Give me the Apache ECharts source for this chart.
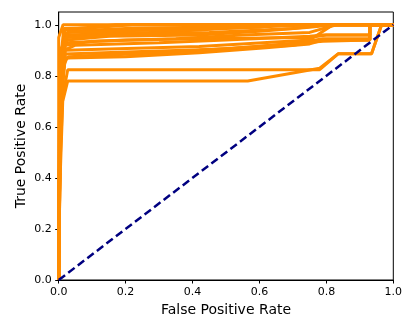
<!DOCTYPE html>
<html>
<head>
<meta charset="utf-8">
<script src="https://cdn.jsdelivr.net/npm/echarts@6/dist/echarts.min.js"></script>
<style>
  html, body { margin: 0; padding: 0; background: #fff; }
  #chart { width: 415px; height: 332px; }
</style>
</head>
<body>
<div id="chart"></div>
<script>
// ROC curves as [false positive rate, true positive rate] pairs
const roc01 = [[0, 0], [0, 0.35], [0.008, 0.7], [0.015, 0.84], [0.025, 0.87], [0.2, 0.875], [0.42, 0.89], [0.62, 0.91], [0.75, 0.925], [0.79, 0.94], [0.93, 0.94], [0.93, 1], [1, 1]];
const roc02 = [[0, 0], [0.005, 0.62], [0.012, 0.8], [0.02, 0.885], [0.25, 0.895], [0.5, 0.905], [0.72, 0.93], [0.79, 0.945], [0.93, 0.945], [0.93, 1], [1, 1]];
const roc03 = [[0, 0], [0.004, 0.55], [0.01, 0.78], [0.02, 0.9], [0.15, 0.905], [0.42, 0.915], [0.75, 0.94], [0.82, 1], [1, 1]];
const roc04 = [[0, 0], [0.006, 0.66], [0.018, 0.86], [0.03, 0.875], [0.3, 0.89], [0.6, 0.915], [0.79, 0.935], [0.93, 0.94], [0.93, 1], [1, 1]];
const roc05 = [[0, 0], [0.003, 0.6], [0.01, 0.85], [0.02, 0.93], [0.2, 0.94], [0.42, 0.945], [0.75, 0.95], [0.8, 0.96], [0.93, 0.96], [0.93, 1], [1, 1]];
const roc06 = [[0, 0], [0.005, 0.7], [0.012, 0.9], [0.025, 0.94], [0.15, 0.955], [0.42, 0.96], [0.6, 0.975], [0.75, 0.99], [0.82, 1], [1, 1]];
const roc07 = [[0, 0], [0.004, 0.75], [0.015, 0.95], [0.12, 0.965], [0.3, 0.97], [0.42, 0.98], [0.6, 1], [1, 1]];
const roc08 = [[0, 0], [0.006, 0.72], [0.02, 0.92], [0.1, 0.935], [0.35, 0.945], [0.55, 0.96], [0.75, 0.97], [0.83, 1], [1, 1]];
const roc09 = [[0, 0], [0.002, 0.65], [0.008, 0.88], [0.02, 0.96], [0.27, 0.97], [0.5, 0.985], [0.75, 1], [1, 1]];
const roc10 = [[0, 0], [0, 0.95], [0.013, 1], [1, 1]];
const roc11 = [[0, 0], [0.004, 0.85], [0.02, 0.98], [0.17, 1], [1, 1]];
const roc12 = [[0, 0], [0.003, 0.82], [0.015, 0.985], [0.1, 0.988], [0.22, 1], [1, 1]];
const roc13 = [[0, 0], [0.005, 0.9], [0.03, 0.975], [0.2, 0.985], [0.42, 0.99], [0.55, 1], [1, 1]];
const roc14 = [[0, 0], [0.003, 0.78], [0.025, 0.97], [0.3, 0.98], [0.6, 0.99], [0.65, 1], [1, 1]];
const roc15 = [[0, 0], [0.004, 0.45], [0.012, 0.72], [0.027, 0.824], [0.78, 0.824], [0.835, 0.886], [0.935, 0.886], [0.965, 1], [1, 1]];
const roc16 = [[0, 0], [0.003, 0.35], [0.012, 0.7], [0.027, 0.78], [0.565, 0.78], [0.78, 0.83], [0.835, 0.886], [0.935, 0.886], [0.965, 1], [1, 1]];
const roc17 = [[0, 0], [0.004, 0.6], [0.015, 0.9], [0.05, 0.92], [0.3, 0.93], [0.5, 0.94], [0.75, 0.955], [0.79, 0.96], [0.93, 0.96], [0.93, 1], [1, 1]];
const roc18 = [[0, 0], [0.005, 0.7], [0.02, 0.87], [0.1, 0.88], [0.42, 0.9], [0.7, 0.92], [0.79, 0.94], [0.93, 0.94], [0.93, 1], [1, 1]];
const roc19 = [[0, 0], [0.003, 0.8], [0.02, 0.95], [0.2, 0.96], [0.45, 0.97], [0.7, 0.985], [0.8, 1], [1, 1]];
const chance = [[0, 0], [1, 1]];
const tickValues = [0, 0.2, 0.4, 0.6, 0.8, 1.0];

const rocCurves = [roc01, roc02, roc03, roc04, roc05, roc06, roc07, roc08, roc09, roc10,
  roc11, roc12, roc13, roc14, roc15, roc16, roc17, roc18, roc19];

var myChart = echarts.init(document.getElementById("chart"), null, { renderer: "canvas" });

const font = "DejaVu Sans";
const series = rocCurves.map(function (c, i) {
  return {
    name: "roc" + (i + 1),
    type: "line",
    data: c,
    showSymbol: false,
    symbol: "none",
    lineStyle: { color: "#ff8c00", width: 3 },
    z: 2
  };
});
series.push({
  name: "chance",
  type: "line",
  data: chance,
  showSymbol: false,
  symbol: "none",
  lineStyle: { color: "#000080", width: 2.5, type: [8, 4] },
  z: 3
});

myChart.setOption({
  animation: false,
  grid: {
    left: 58.7,
    right: 21.7,
    top: 12,
    bottom: 52,
    show: true,
    borderColor: "#000",
    borderWidth: 1,
    backgroundColor: "transparent"
  },
  xAxis: {
    type: "value",
    min: 0,
    max: 1,
    interval: 0.2,
    name: "False Positive Rate",
    nameLocation: "middle",
    nameGap: 23,
    nameMoveOverlap: false,
    nameTextStyle: { fontFamily: font, fontSize: 14, color: "#000" },
    axisLine: { show: true, onZero: false, lineStyle: { color: "#000", width: 1 } },
    axisTick: { show: true, inside: false, length: 3.5, lineStyle: { color: "#000" } },
    axisLabel: {
      fontFamily: font, fontSize: 11, color: "#000", margin: 7,
      formatter: function (v) { return v.toFixed(1); }
    },
    splitLine: { show: false }
  },
  yAxis: {
    type: "value",
    min: 0,
    max: 1.05,
    name: "True Positive Rate",
    nameLocation: "middle",
    nameGap: 30,
    nameMoveOverlap: false,
    nameTextStyle: { fontFamily: font, fontSize: 14, color: "#000" },
    axisLine: { show: true, onZero: false, lineStyle: { color: "#000", width: 1 } },
    axisTick: { show: true, inside: false, length: 3.5, lineStyle: { color: "#000" }, customValues: tickValues },
    axisLabel: {
      fontFamily: font, fontSize: 11, color: "#000", margin: 7,
      customValues: tickValues,
      formatter: function (v) { return v.toFixed(1); }
    },
    splitLine: { show: false }
  },
  series: series
});
</script>
</body>
</html>
